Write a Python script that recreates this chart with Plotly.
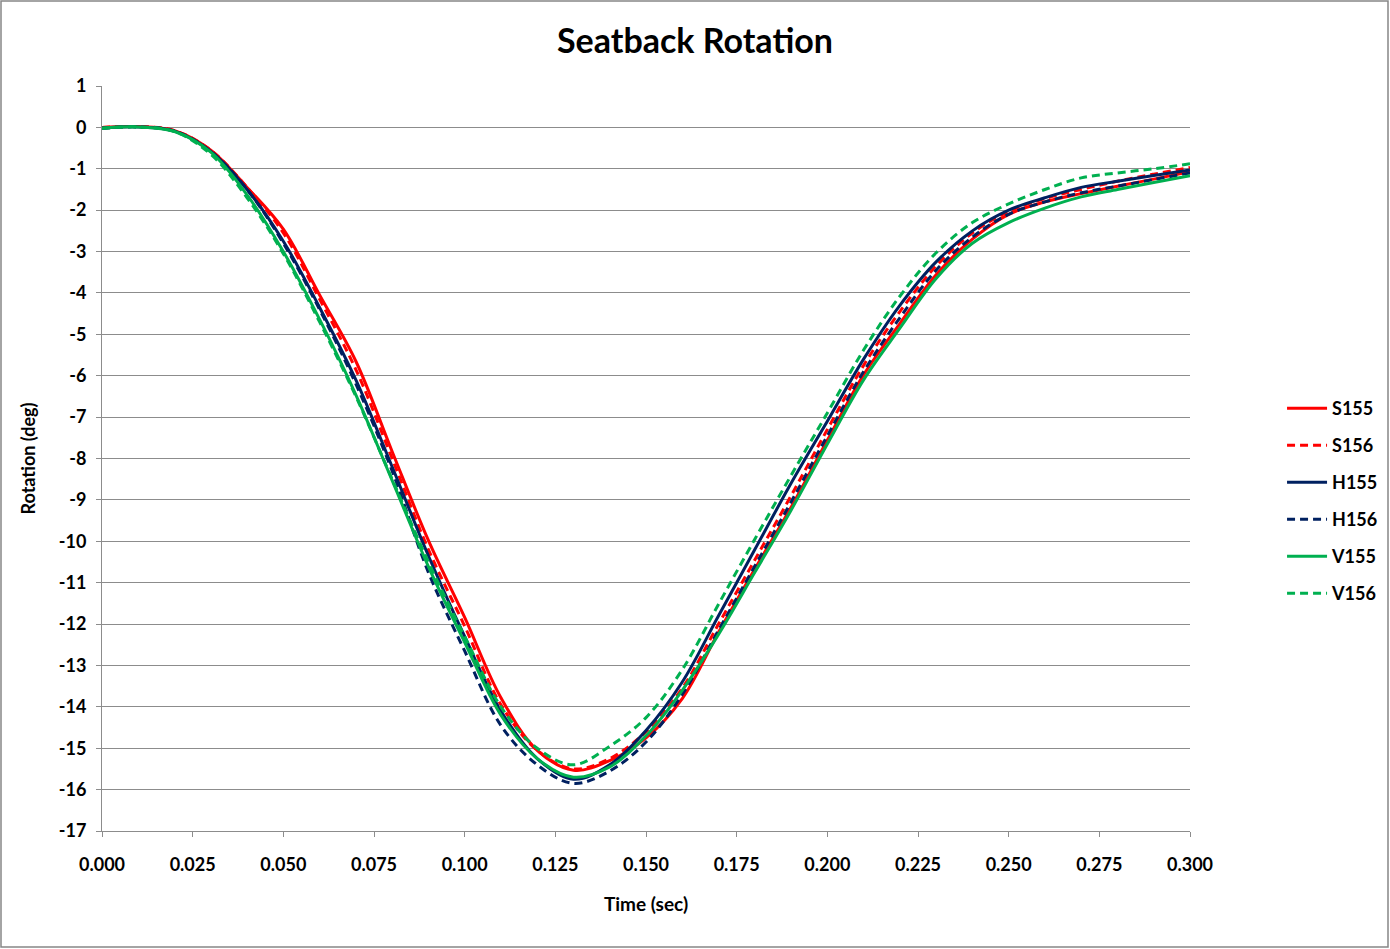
import plotly.graph_objects as go

time_s = [0.00, 0.01, 0.02, 0.03, 0.04, 0.05, 0.06, 0.07, 0.08, 0.09, 0.10,
          0.11, 0.12, 0.13, 0.14, 0.15, 0.16, 0.17, 0.18, 0.19, 0.20,
          0.21, 0.22, 0.23, 0.24, 0.25, 0.26, 0.27, 0.28, 0.29, 0.30]

S155 = [0.00, 0.02, -0.08, -0.55, -1.45, -2.46, -4.05, -5.65, -7.83, -9.98, -11.84,
        -13.78, -15.05, -15.53, -15.30, -14.75, -13.80, -12.20, -10.67, -9.18, -7.56,
        -5.98, -4.74, -3.56, -2.70, -2.10, -1.80, -1.60, -1.42, -1.25, -1.07]
S156 = [0.00, 0.02, -0.08, -0.55, -1.45, -2.55, -4.15, -5.85, -8.00, -10.20, -12.05,
        -13.95, -15.05, -15.50, -15.25, -14.60, -13.55, -12.00, -10.45, -8.90, -7.30,
        -5.75, -4.45, -3.35, -2.55, -2.03, -1.72, -1.50, -1.30, -1.13, -0.97]
H155 = [-0.02, 0.01, -0.09, -0.58, -1.50, -2.75, -4.35, -6.10, -8.20, -10.35, -12.30,
        -14.10, -15.25, -15.75, -15.40, -14.57, -13.40, -11.80, -10.20, -8.60, -7.10,
        -5.60, -4.30, -3.25, -2.50, -2.00, -1.70, -1.45, -1.30, -1.16, -1.03]
H156 = [-0.02, 0.01, -0.09, -0.58, -1.50, -2.80, -4.40, -6.20, -8.30, -10.75, -12.65,
        -14.45, -15.40, -15.85, -15.55, -14.85, -13.70, -12.15, -10.60, -9.05, -7.45,
        -5.90, -4.60, -3.45, -2.65, -2.10, -1.80, -1.58, -1.42, -1.26, -1.10]
V155 = [-0.02, 0.01, -0.10, -0.60, -1.63, -3.00, -4.64, -6.46, -8.53, -10.61, -12.44,
        -14.20, -15.25, -15.70, -15.45, -14.70, -13.60, -12.25, -10.75, -9.25, -7.65,
        -6.10, -4.85, -3.65, -2.80, -2.30, -1.95, -1.68, -1.50, -1.33, -1.17]
V156 = [-0.02, 0.01, -0.10, -0.65, -1.70, -3.05, -4.70, -6.50, -8.50, -10.50, -12.30,
        -14.00, -15.00, -15.40, -14.95, -14.26, -13.10, -11.52, -9.95, -8.41, -6.90,
        -5.38, -4.08, -3.03, -2.30, -1.85, -1.50, -1.22, -1.10, -1.00, -0.88]

series_names = ["S155", "S156", "H155", "H156", "V155", "V156"]
series_values = [S155, S156, H155, H156, V155, V156]
series_colors = ["#FF0000", "#FF0000", "#002060", "#002060", "#00B050", "#00B050"]
series_dash = ["solid", "8px,5px", "solid", "8px,5px", "solid", "8px,5px"]

x_tickvals = [0.0, 0.025, 0.05, 0.075, 0.1, 0.125, 0.15, 0.175, 0.2, 0.225, 0.25, 0.275, 0.3]
x_ticktext = ["0.000", "0.025", "0.050", "0.075", "0.100", "0.125", "0.150",
              "0.175", "0.200", "0.225", "0.250", "0.275", "0.300"]
y_tickvals = list(range(1, -18, -1))
y_ticktext = ["1", "0", "-1", "-2", "-3", "-4", "-5", "-6", "-7", "-8", "-9",
              "-10", "-11", "-12", "-13", "-14", "-15", "-16", "-17"]

FONT = "Lato"
GRID = "#8C8C8C"

fig = go.Figure()
for i, (name, vals) in enumerate(zip(series_names, series_values)):
    fig.add_trace(go.Scatter(
        x=time_s, y=vals, name=name, mode="lines",
        legendgroup=name,
        line=dict(color=series_colors[i], width=3, dash=series_dash[i],
                  shape="spline", smoothing=1.0),
    ))

fig.update_layout(
    width=1390, height=949,
    margin=dict(l=102, r=200, t=86, b=118, autoexpand=False),
    paper_bgcolor="white", plot_bgcolor="white",
    font=dict(family=FONT, color="black"),
    title=dict(text="Seatback Rotation", x=0.5, xref="container",
               y=1 - 41 / 949, yref="container", xanchor="center", yanchor="middle",
               font=dict(size=34, family=FONT, color="black", weight="bold")),
    showlegend=True,
    legend=dict(x=1.0846, xanchor="left", y=0.592, yanchor="top",
                font=dict(size=18, family=FONT, color="black", weight="bold"),
                tracegroupgap=10.6, bgcolor="rgba(0,0,0,0)", itemwidth=40),
    xaxis=dict(range=[0, 0.3], tickmode="array", tickvals=x_tickvals, ticktext=x_ticktext,
               showgrid=False, zeroline=False,
               showline=True, linecolor=GRID, linewidth=1,
               ticks="outside", ticklen=5, tickcolor=GRID,
               ticklabelstandoff=12,
               tickfont=dict(size=18, family=FONT, color="black", weight="bold"),
               title=dict(text="Time (sec)", standoff=24,
                          font=dict(size=19, family=FONT, color="black", weight="bold"))),
    yaxis=dict(range=[-17, 1], tickmode="array", tickvals=y_tickvals, ticktext=y_ticktext,
               showgrid=True, gridcolor=GRID, gridwidth=1, zeroline=False,
               showline=True, linecolor=GRID, linewidth=1,
               ticks="outside", ticklen=5, tickcolor=GRID,
               ticklabelstandoff=6,
               tickfont=dict(size=18, family=FONT, color="black", weight="bold"),
               title=dict(text="Rotation (deg)", standoff=18,
                          font=dict(size=18, family=FONT, color="black", weight="bold"))),
)

# outer chart border
fig.add_shape(type="rect", xref="paper", yref="paper",
              x0=(1 - 102) / 1088, x1=(1388 - 102) / 1088,
              y0=(831 - 947) / 745, y1=(831 - 1) / 745,
              line=dict(color="#868686", width=1.5), fillcolor="rgba(0,0,0,0)",
              layer="below")

fig.write_html("out.html")
